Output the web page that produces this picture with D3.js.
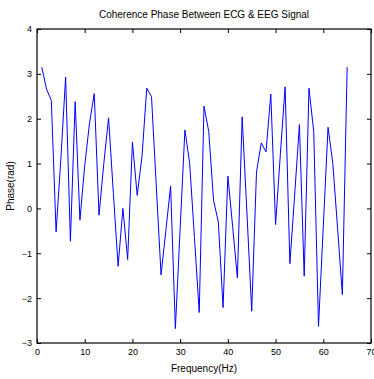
<!DOCTYPE html>
<html>
<head>
<meta charset="utf-8">
<script src="https://cdn.jsdelivr.net/npm/d3@7"></script>
<style>
  body { margin: 0; background: #fff; }
  text { font-family: "Liberation Sans", Arial, sans-serif; fill: #000; }
</style>
</head>
<body>
<div id="chart"></div>
<script>
// coherence phase, one value per Hz (1..65)
const freqs = d3.range(1, 66);
const phase = [
  3.15, 2.66, 2.41, -0.52, 1.1, 2.93, -0.73, 2.38, -0.26, 0.95,
  1.9, 2.56, -0.15, 1.0, 2.02, 0.35, -1.29, 0.0, -1.14, 1.48,
  0.29, 1.15, 2.68, 2.49, 0.5, -1.48, -0.5, 0.5, -2.68, -0.45,
  1.75, 1.0, -0.65, -2.32, 2.28, 1.71, 0.18, -0.3, -2.21, 0.72,
  -0.4, -1.55, 2.04, -0.1, -2.29, 0.81, 1.46, 1.26, 2.55, -0.36,
  1.2, 2.71, -1.23, 0.3, 1.87, -1.51, 2.68, 1.71, -2.63, -0.4,
  1.81, 1.0, -0.45, -1.92, 3.15
];
const xTicks = [0, 10, 20, 30, 40, 50, 60, 70];
const yTicks = [-3, -2, -1, 0, 1, 2, 3, 4];

const width = 374;
const height = 379;
const margin = { top: 29, right: 3, bottom: 36, left: 37 };
const innerW = width - margin.left - margin.right;
const innerH = height - margin.top - margin.bottom;

const svg = d3.select('#chart')
  .append('svg')
  .attr('width', width)
  .attr('height', height);

const g = svg.append('g')
  .attr('transform', `translate(${margin.left},${margin.top})`);

const x = d3.scaleLinear().domain([0, 70]).range([0, innerW]);
const y = d3.scaleLinear().domain([-3, 4]).range([innerH, 0]);

// the line
const line = d3.line()
  .x((d, i) => x(freqs[i]))
  .y(d => y(d));

g.append('path')
  .datum(phase)
  .attr('fill', 'none')
  .attr('stroke', '#0000ff')
  .attr('stroke-width', 1)
  .attr('d', line);

// axes, ticks pointing inward like matlab
const styleAxis = sel => {
  sel.select('.domain').remove();
  sel.selectAll('line').attr('stroke', '#000');
  sel.selectAll('text').attr('font-size', 9).attr('font-family', '"Liberation Sans", Arial, sans-serif');
};

g.append('g')
  .attr('transform', `translate(0,${innerH})`)
  .call(d3.axisBottom(x).tickValues(xTicks).tickFormat(d3.format('d'))
    .tickSizeInner(-4).tickSizeOuter(0).tickPadding(6))
  .call(styleAxis);

g.append('g')
  .call(d3.axisLeft(y).tickValues(yTicks).tickFormat(d3.format('d'))
    .tickSizeInner(-4).tickSizeOuter(0).tickPadding(5))
  .call(styleAxis);

g.append('g')
  .call(d3.axisTop(x).tickValues(xTicks).tickSizeInner(-4).tickSizeOuter(0).tickFormat(''))
  .call(styleAxis);

g.append('g')
  .attr('transform', `translate(${innerW},0)`)
  .call(d3.axisRight(y).tickValues(yTicks).tickSizeInner(-4).tickSizeOuter(0).tickFormat(''))
  .call(styleAxis);

// box
g.append('rect')
  .attr('width', innerW)
  .attr('height', innerH)
  .attr('fill', 'none')
  .attr('stroke', '#000')
  .attr('stroke-width', 1.2);

// labels
svg.append('text')
  .attr('x', margin.left + innerW / 2)
  .attr('y', 18)
  .attr('text-anchor', 'middle')
  .attr('font-size', 10)
  .text('Coherence Phase Between ECG & EEG Signal');

svg.append('text')
  .attr('x', margin.left + innerW / 2)
  .attr('y', 372)
  .attr('text-anchor', 'middle')
  .attr('font-size', 10)
  .text('Frequency(Hz)');

svg.append('text')
  .attr('transform', `translate(14,${margin.top + innerH / 2}) rotate(-90)`)
  .attr('text-anchor', 'middle')
  .attr('font-size', 10)
  .text('Phase(rad)');
</script>
</body>
</html>
